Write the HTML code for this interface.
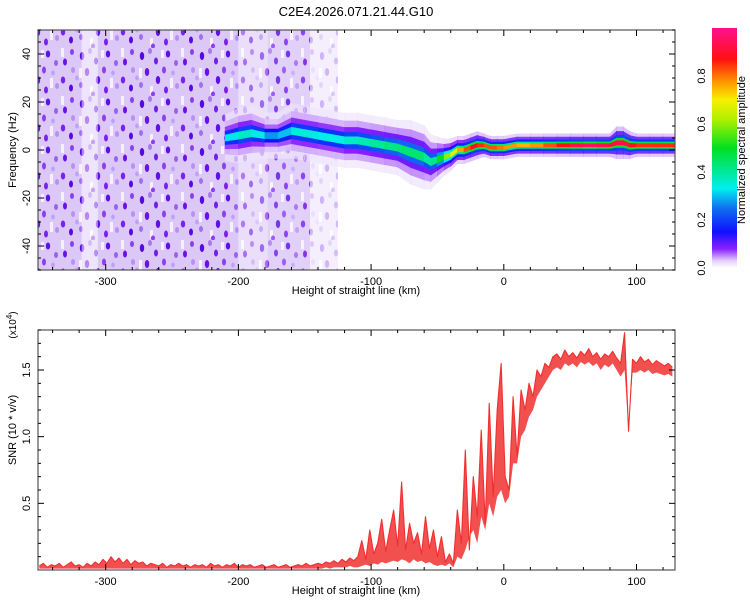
<!DOCTYPE html>
<html><head><meta charset="utf-8">
<style>
body{margin:0;background:#fff;}
svg{display:block;font-family:"Liberation Sans",sans-serif;}
text{fill:#000;}
</style></head>
<body>
<svg id="chart" width="750" height="600" viewBox="0 0 750 600">
<defs>
<pattern id="speck" width="60" height="48" patternUnits="userSpaceOnUse">
<rect width="60" height="48" fill="#dcc8f7"/>
<rect x="1" y="0" width="3" height="9" fill="#f6f0fe"/>
<rect x="19" y="20" width="3" height="10" fill="#f6f0fe"/>
<rect x="41" y="2" width="3" height="8" fill="#f6f0fe"/>
<rect x="50" y="30" width="3" height="10" fill="#f6f0fe"/>
<rect x="30" y="38" width="3" height="8" fill="#f6f0fe"/>
<ellipse cx="5" cy="14" rx="2" ry="3.5" fill="#6a10e8"/>
<ellipse cx="12" cy="4" rx="2" ry="3" fill="#8a40ee"/>
<ellipse cx="22" cy="8" rx="2.2" ry="4" fill="#5808e4"/>
<ellipse cx="30" cy="3" rx="2" ry="3" fill="#a878f2"/>
<ellipse cx="36" cy="13" rx="2" ry="3.5" fill="#7020ea"/>
<ellipse cx="48" cy="6" rx="2.2" ry="3.5" fill="#6010e6"/>
<ellipse cx="56" cy="15" rx="2" ry="3" fill="#9a60f0"/>
<ellipse cx="13" cy="22" rx="2" ry="3" fill="#b890f4"/>
<ellipse cx="27" cy="24" rx="2.2" ry="4" fill="#6a10e8"/>
<ellipse cx="44" cy="22" rx="2" ry="3.5" fill="#8a40ee"/>
<ellipse cx="3" cy="32" rx="2.2" ry="3.5" fill="#7a22ec"/>
<ellipse cx="11" cy="40" rx="2" ry="3.5" fill="#5c08e4"/>
<ellipse cx="21" cy="37" rx="2" ry="3" fill="#a070f0"/>
<ellipse cx="38" cy="32" rx="2.2" ry="4" fill="#6010e6"/>
<ellipse cx="46" cy="42" rx="2" ry="3.5" fill="#7a22ec"/>
<ellipse cx="57" cy="38" rx="2" ry="3" fill="#b890f4"/>
<ellipse cx="33" cy="46" rx="2" ry="2.5" fill="#8a40ee"/>
<ellipse cx="53" cy="25" rx="1.8" ry="2.5" fill="#c0a0f6"/>
<ellipse cx="17" cy="30" rx="1.8" ry="2.5" fill="#c0a0f6"/>
</pattern>
<linearGradient id="cbar" x1="0" y1="1" x2="0" y2="0">
<stop offset="0" stop-color="#ffffff"/>
<stop offset="0.03" stop-color="#e4d0fb"/>
<stop offset="0.08" stop-color="#8a20ff"/>
<stop offset="0.15" stop-color="#1010ff"/>
<stop offset="0.25" stop-color="#1070f0"/>
<stop offset="0.33" stop-color="#00eef0"/>
<stop offset="0.5" stop-color="#00e020"/>
<stop offset="0.62" stop-color="#b0f000"/>
<stop offset="0.7" stop-color="#f8f000"/>
<stop offset="0.78" stop-color="#ff9000"/>
<stop offset="0.87" stop-color="#ff1010"/>
<stop offset="1" stop-color="#ff1090"/>
</linearGradient>
<clipPath id="clipTop"><rect x="38" y="30" width="637" height="240"/></clipPath>
<clipPath id="clipBot"><rect x="38" y="330" width="637" height="240"/></clipPath>
</defs>
<text x="356" y="16" font-size="13" text-anchor="middle">C2E4.2026.071.21.44.G10</text>
<g id="top"></g>
<g id="bot"></g>
<g id="cb"></g>
</svg>
<script>
// ---- data ----
const noiseBands = [[-351,-318,1.0],[-318,-306,0.5],[-306,-200,1.0],[-200,-178,0.6],[-178,-146,0.85],[-146,-125,0.3]];
const ridgeH   = [-210,-200,-190,-180,-170,-160,-150,-140,-130,-120,-110,-100,-90,-80,-70,-60,-55,-50,-45,-40,-35,-30,-25,-20,-15,-10,-5,0,10,20,30,40,50,60,70,80,85,90,95,100,110,120,129];
const ridgeF   = [5,6,7,6,6,8,7,6,5,4,4,3,2,1,-1,-3,-5,-4,-3,-2,0,0,1,2,2,1,1,1,2,2,2,2,2,2,2,2,3,3,2,2,2,2,2];
const ridgeHW  = [5,6,6,5,5,6,6,6,6,6,6,6,6,6,7,7,6,5,4,3.5,3,3,3,3,2.5,2.5,2.5,2.5,2.5,2.5,2.5,2.5,2.5,2.5,2.5,2.5,3.5,3.5,3,2.5,2.5,2.5,2.5];
const ridgeAmp = [0.3,0.35,0.38,0.3,0.25,0.35,0.35,0.35,0.32,0.35,0.38,0.38,0.42,0.42,0.45,0.42,0.38,0.45,0.55,0.65,0.72,0.8,0.85,0.9,0.8,0.85,0.8,0.8,0.75,0.75,0.8,0.85,0.9,0.95,0.95,0.9,0.9,0.95,0.9,0.85,0.85,0.85,0.85];
const snrStart = -350, snrStep = 3;
const snr = [
.03,.05,.02,.04,.03,.05,.02,.04,.06,.03,
.04,.02,.05,.03,.06,.04,.08,.05,.10,.06,
.09,.05,.08,.04,.07,.05,.06,.03,.05,.04,
.03,.05,.02,.04,.03,.05,.03,.04,.02,.04,
.03,.04,.02,.05,.03,.04,.02,.04,.03,.05,
.02,.04,.03,.04,.02,.03,.04,.02,.03,.04,
.02,.03,.04,.02,.03,.04,.03,.05,.03,.04,
.05,.04,.06,.05,.07,.05,.08,.06,.09,.07,
.10,.22,.08,.30,.12,.20,.38,.14,.30,.45,
.18,.66,.15,.35,.20,.28,.12,.40,.16,.30,
.10,.25,.06,.12,.05,.45,.20,.90,.15,.70,
.40,1.05,.35,1.25,.55,1.20,1.55,.70,.60,1.30,
.85,1.35,1.20,1.40,1.30,1.50,1.45,1.55,1.52,1.60,
1.62,1.58,1.65,1.60,1.63,1.59,1.64,1.61,1.66,1.60,
1.63,1.58,1.62,1.60,1.64,1.59,1.55,1.78,1.04,1.58,
1.55,1.60,1.56,1.58,1.54,1.57,1.55,1.53,1.55,1.52];
const snrLow = [
.01,.01,.01,.01,.01,.01,.01,.01,.01,.01,
.01,.01,.01,.01,.01,.01,.01,.01,.01,.01,
.01,.01,.01,.01,.01,.01,.01,.01,.01,.01,
.01,.01,.01,.01,.01,.01,.01,.01,.01,.01,
.01,.01,.01,.01,.01,.01,.01,.01,.01,.01,
.01,.01,.01,.01,.01,.01,.01,.01,.01,.01,
.01,.01,.01,.01,.01,.01,.01,.01,.01,.01,
.01,.01,.02,.01,.02,.02,.02,.02,.03,.02,
.02,.03,.04,.03,.05,.04,.06,.05,.06,.07,
.06,.08,.07,.05,.08,.06,.07,.05,.06,.04,
.03,.04,.03,.05,.02,.10,.08,.15,.25,.30,
.20,.40,.30,.50,.40,.55,.60,.50,.55,.80,
.80,1.00,1.05,1.15,1.20,1.30,1.35,1.40,1.45,1.50,
1.52,1.50,1.55,1.53,1.55,1.52,1.56,1.54,1.56,1.53,
1.55,1.50,1.54,1.52,1.55,1.50,1.45,1.50,1.04,1.48,
1.48,1.50,1.48,1.50,1.47,1.48,1.47,1.46,1.47,1.45];
const xTicks = [-300,-200,-100,0,100];
const fTicks = [-40,-20,0,20,40];
const sTicks = [0.5,1.0,1.5];
const cTicks = [0.0,0.2,0.4,0.6,0.8];

// ---- scales ----
const NS='http://www.w3.org/2000/svg';
const X0=38,X1=675,XMIN=-351,XMAX=129;
const xs = v => X0+(v-XMIN)/(XMAX-XMIN)*(X1-X0);
const fy = v => 30+(50-v)/100*240;
const sy = v => 570-v/1.8*240;
const cy = v => 268-v*240;
function el(tag,attrs,parent){const e=document.createElementNS(NS,tag);for(const k in attrs)e.setAttribute(k,attrs[k]);parent.appendChild(e);return e;}
const stops=[[0,[255,255,255]],[0.03,[228,208,251]],[0.08,[138,32,255]],[0.15,[16,16,255]],[0.25,[16,112,240]],[0.33,[0,238,240]],[0.5,[0,224,32]],[0.62,[176,240,0]],[0.7,[248,240,0]],[0.78,[255,144,0]],[0.87,[255,16,16]],[1,[255,16,144]]];
function cmap(v){v=Math.max(0,Math.min(1,v));for(let i=1;i<stops.length;i++){if(v<=stops[i][0]){const a=stops[i-1],b=stops[i],t=(v-a[0])/(b[0]-a[0]);const c=a[1].map((q,j)=>Math.round(q+(b[1][j]-q)*t));return `rgb(${c})`;}}return 'rgb(255,16,144)';}

// ---- top panel ----
const topG=document.getElementById('top');
const heat=el('g',{'clip-path':'url(#clipTop)'},topG);


noiseBands.forEach(b=>{
  const r=el('rect',{x:xs(b[0]),y:30,width:xs(b[1])-xs(b[0]),height:240,fill:'url(#speck)',opacity:b[2]},heat);
  
  
});
const layers=[[1.9,0.05,0.6],[1.35,0.12,0.85],[0.9,0.22,1],[0.55,0.55,1],[0.25,1.0,1]];
const ridge=el('g',{},heat);


layers.forEach(L=>{
  for(let i=0;i<ridgeH.length-1;i++){
    const h0=ridgeH[i],h1=ridgeH[i+1];
    const p=[[xs(h0),fy(ridgeF[i]+ridgeHW[i]*L[0])],[xs(h1),fy(ridgeF[i+1]+ridgeHW[i+1]*L[0])],[xs(h1),fy(ridgeF[i+1]-ridgeHW[i+1]*L[0])],[xs(h0),fy(ridgeF[i]-ridgeHW[i]*L[0])]];
    const a=(ridgeAmp[i]+ridgeAmp[i+1])/2*L[1];
    const pg=el('polygon',{points:p.map(q=>q.join(',')).join(' '),fill:cmap(a),stroke:cmap(a),'stroke-width':0.6,opacity:L[2]},ridge);
    
    
  }
});
function frame(g,y0,ticksY,ysc,minorStep,ymin,ymax,labels){
  el('rect',{x:X0,y:y0,width:X1-X0,height:240,fill:'none',stroke:'#555','stroke-width':1.2},g);
  for(let v=-340;v<=120;v+=20){const x=xs(v),maj=v%100===0;const L=maj?6:3;
    el('line',{x1:x,y1:y0+240,x2:x,y2:y0+240-L,stroke:'#000'},g);el('line',{x1:x,y1:y0,x2:x,y2:y0+L,stroke:'#000'},g);}
  for(let v=ymin;v<=ymax+1e-9;v+=minorStep){const y=ysc(v);if(y<y0-0.1||y>y0+240.1)continue;
    const maj=ticksY.some(t=>Math.abs(t-v)<1e-6);const L=maj?6:3;
    el('line',{x1:X0,y1:y,x2:X0+L,y2:y,stroke:'#000'},g);el('line',{x1:X1,y1:y,x2:X1-L,y2:y,stroke:'#000'},g);}
  xTicks.forEach(v=>{const t=el('text',{x:xs(v),y:y0+255,'font-size':11,'text-anchor':'middle'},g);t.textContent=v;
    });
  ticksY.forEach(v=>{const y=ysc(v);const t=el('text',{x:30,y:y,'font-size':11,'text-anchor':'middle',transform:`rotate(-90 30 ${y})`},g);t.textContent=labels(v);
    });
  const xl=el('text',{x:356,y:y0+264,'font-size':11,'text-anchor':'middle'},g);xl.textContent='Height of straight line (km)';
  
}
frame(topG,30,fTicks,fy,5,-50,50,v=>v);
const yl=el('text',{x:16,y:150,'font-size':11,'text-anchor':'middle',transform:'rotate(-90 16 150)'},topG);yl.textContent='Frequency (Hz)';


// ---- bottom panel ----
const botG=document.getElementById('bot');
const lg=el('g',{'clip-path':'url(#clipBot)'},botG);
const hiPts=snr.map((v,i)=>[xs(snrStart+i*snrStep),sy(v)].join(','));
const loPts=snrLow.map((v,i)=>[xs(snrStart+i*snrStep),sy(v)].join(',')).reverse();
const band=el('polygon',{points:hiPts.concat(loPts).join(' '),fill:'#f03030',opacity:0.85},lg);


const line=el('polyline',{points:hiPts.join(' '),fill:'none',stroke:'#f03030','stroke-width':1.1,'stroke-linejoin':'round'},lg);


frame(botG,330,sTicks,sy,0.1,0.1,1.8,v=>v.toFixed(1));
const yl2=el('text',{x:16,y:430,'font-size':11,'text-anchor':'middle',transform:'rotate(-90 16 430)'},botG);yl2.textContent='SNR (10 * v/v)';

const ex=el('text',{x:16,y:325,'font-size':10,'text-anchor':'middle',transform:'rotate(-90 16 325)'},botG);ex.innerHTML='(x10<tspan dy="-4" font-size="8">4</tspan><tspan dy="4">)</tspan>';


// ---- colorbar ----
const cbG=document.getElementById('cb');
const bar=el('rect',{x:712,y:28,width:25,height:240,fill:'url(#cbar)'},cbG);

cTicks.forEach(v=>{const y=cy(v);const t=el('text',{x:705,y:y,'font-size':11,'text-anchor':'middle',transform:`rotate(-90 705 ${y})`},cbG);t.textContent=v.toFixed(1);
  });
const ct=el('text',{x:745,y:150,'font-size':11,'text-anchor':'middle',transform:'rotate(-90 745 150)'},cbG);ct.textContent='Normalized spectral amplitude';

</script>
</body></html>
